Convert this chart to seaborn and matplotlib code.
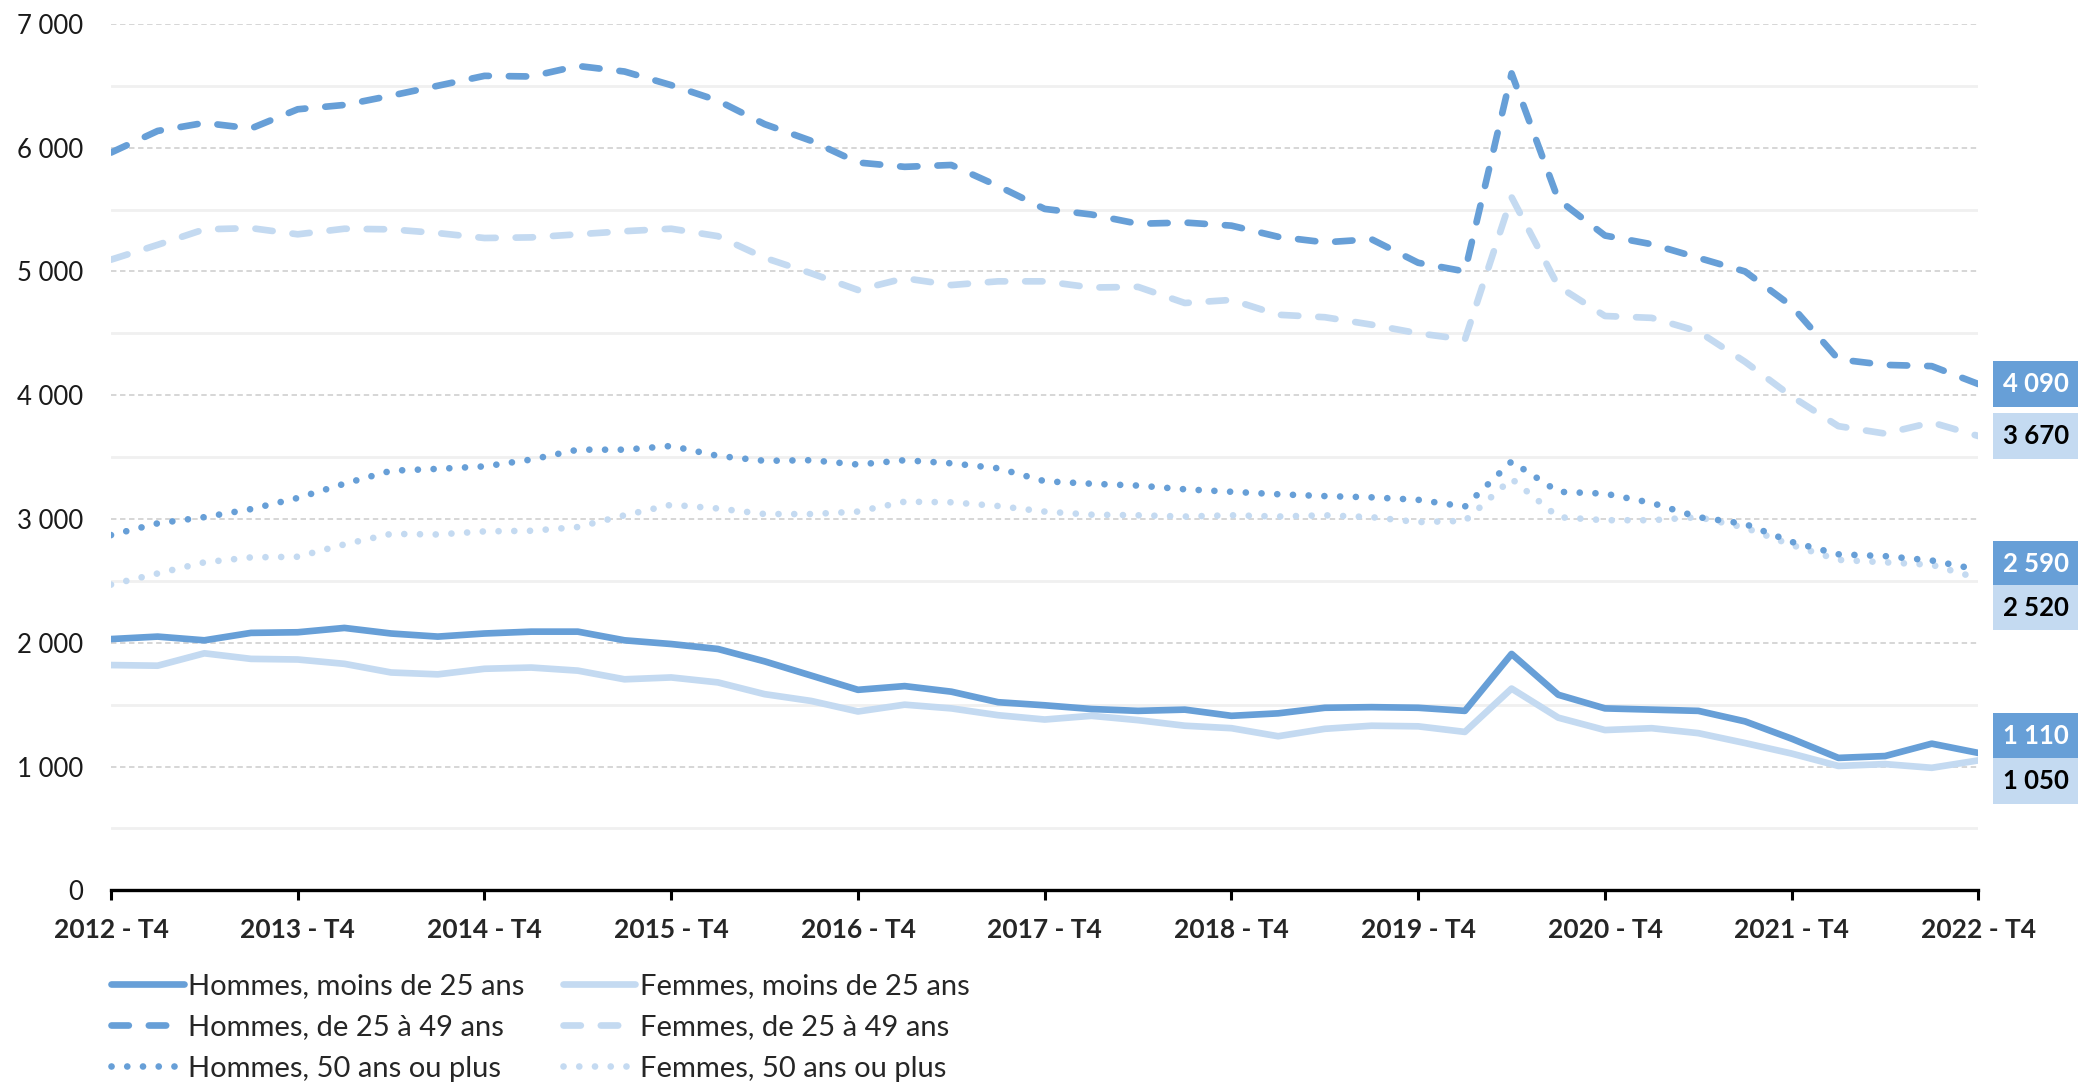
import numpy as np
import pandas as pd
import matplotlib
matplotlib.use("Agg")
import matplotlib.pyplot as plt
import seaborn as sns

# trimestres 2012-T4 .. 2022-T4 (41 points)
trimestres = list(range(41))
x_ticks = [0, 4, 8, 12, 16, 20, 24, 28, 32, 36, 40]
x_labels = ["2012 - T4", "2013 - T4", "2014 - T4", "2015 - T4", "2016 - T4", "2017 - T4",
            "2018 - T4", "2019 - T4", "2020 - T4", "2021 - T4", "2022 - T4"]
y_ticks = [0, 1000, 2000, 3000, 4000, 5000, 6000, 7000]
y_labels = ["0", "1 000", "2 000", "3 000", "4 000", "5 000", "6 000", "7 000"]

hommes_moins25 = [2030, 2050, 2020, 2080, 2085, 2120, 2075, 2050, 2075, 2090, 2090, 2020, 1990,
                  1950, 1850, 1735, 1620, 1650, 1605, 1520, 1495, 1465, 1450, 1460, 1410, 1430,
                  1475, 1480, 1475, 1450, 1910, 1580, 1470, 1460, 1450, 1365, 1225, 1070, 1085,
                  1185, 1110]
femmes_moins25 = [1820, 1815, 1915, 1870, 1865, 1830, 1760, 1745, 1790, 1800, 1775, 1705, 1720,
                  1680, 1585, 1530, 1445, 1500, 1470, 1415, 1380, 1410, 1375, 1330, 1310, 1245,
                  1305, 1330, 1325, 1280, 1630, 1395, 1295, 1310, 1270, 1190, 1105, 1005, 1020,
                  990, 1050]
hommes_25_49 = [5960, 6135, 6200, 6155, 6310, 6345, 6420, 6500, 6580, 6575, 6660, 6615, 6505,
                6380, 6190, 6055, 5880, 5845, 5860, 5690, 5505, 5460, 5385, 5395, 5370, 5280,
                5235, 5260, 5070, 5000, 6600, 5580, 5290, 5220, 5110, 5000, 4720, 4290, 4245,
                4235, 4090]
femmes_25_49 = [5095, 5215, 5340, 5350, 5300, 5345, 5340, 5310, 5270, 5275, 5300, 5325, 5345,
                5285, 5110, 4985, 4850, 4945, 4890, 4920, 4920, 4870, 4875, 4745, 4770, 4650,
                4630, 4570, 4500, 4450, 5600, 4880, 4640, 4625, 4515, 4270, 3990, 3750, 3690,
                3780, 3670]
hommes_50plus = [2870, 2965, 3015, 3080, 3170, 3285, 3390, 3405, 3425, 3480, 3560, 3560, 3590,
                 3510, 3470, 3475, 3440, 3475, 3450, 3410, 3305, 3285, 3270, 3240, 3220, 3200,
                 3185, 3175, 3155, 3100, 3465, 3220, 3205, 3130, 3015, 2960, 2815, 2715, 2700,
                 2665, 2590]
femmes_50plus = [2470, 2560, 2650, 2690, 2695, 2795, 2880, 2875, 2900, 2905, 2935, 3030, 3115,
                 3085, 3040, 3040, 3060, 3140, 3135, 3105, 3060, 3035, 3030, 3020, 3030, 3020,
                 3030, 3015, 2975, 2985, 3325, 3015, 2990, 2990, 3015, 2930, 2790, 2670, 2650,
                 2630, 2520]

noms = ["Hommes, moins de 25 ans", "Hommes, de 25 à 49 ans", "Hommes, 50 ans ou plus",
        "Femmes, moins de 25 ans", "Femmes, de 25 à 49 ans", "Femmes, 50 ans ou plus"]
series = [hommes_moins25, hommes_25_49, hommes_50plus,
          femmes_moins25, femmes_25_49, femmes_50plus]
derniers = ["1 110", "4 090", "2 590", "1 050", "3 670", "2 520"]

BLEU = "#679fd7"
BLEU_CLAIR = "#c4daf1"
couleurs = [BLEU, BLEU, BLEU, BLEU_CLAIR, BLEU_CLAIR, BLEU_CLAIR]
tirets = [None, (2.6, 3.0), (0.01, 2.35), None, (2.6, 3.0), (0.01, 2.35)]
# decalage vertical des etiquettes de fin (points)
decalage = [12, 0, 4, -15, 0, -21]

sns.set_theme(style="white")
plt.rcParams["font.family"] = ["Lato", "DejaVu Sans"]

fig = plt.figure(figsize=(20.78, 10.85), dpi=100)
ax = fig.add_axes([0.0534, 0.1794, 0.8987, 0.7986])

lw = 4.8
ordre = [3, 4, 5, 0, 1, 2]  # clair d'abord, foncé au-dessus
lignes = {}
for k in ordre:
    sns.lineplot(x=trimestres, y=series[k], ax=ax, color=couleurs[k], linewidth=lw,
                 label=noms[k])
    ln = ax.get_lines()[-1]
    ln.set_linewidth(lw)
    ln.set_solid_capstyle("round")
    ln.set_solid_joinstyle("round")
    if tirets[k] is not None:
        ln.set_dashes(tirets[k])
    ln.set_dash_capstyle("round")
    lignes[k] = ln

# etiquettes de fin
for k in range(6):
    clair = couleurs[k] == BLEU_CLAIR
    ax.annotate(derniers[k], xy=(trimestres[-1], series[k][-1]),
                xytext=(18, decalage[k]), textcoords="offset points",
                ha="left", va="center", fontsize=18.5, fontweight="bold",
                color="black" if clair else "white", annotation_clip=False,
                bbox=dict(boxstyle="square,pad=0.42", fc=couleurs[k], ec="none"))

ax.set_xlim(0, 40)
ax.set_ylim(0, 7000)
ax.set_xticks(x_ticks)
ax.set_xticklabels(x_labels, fontsize=19, fontweight="bold")
ax.set_yticks(y_ticks)
ax.set_yticklabels(y_labels, fontsize=18.5, color="#1a1a1a")
ax.set_yticks([500, 1500, 2500, 3500, 4500, 5500, 6500], minor=True)
ax.set_xlabel("")
ax.set_ylabel("")

ax.grid(axis="y", which="major", color="#d3d3d3", linestyle=(0, (3, 2)), lw=1.3)
ax.grid(axis="y", which="minor", color="#f0f0f0", linestyle="-", lw=2)
ax.grid(axis="x", visible=False)
ax.set_axisbelow(True)

for s in ["top", "right", "left"]:
    ax.spines[s].set_visible(False)
ax.spines["bottom"].set_color("black")
ax.spines["bottom"].set_linewidth(2.4)
ax.tick_params(axis="x", which="major", direction="out", length=7, width=2.2,
               color="black", pad=13, bottom=True)
ax.tick_params(axis="y", which="both", length=0, pad=20)

handles = [lignes[k] for k in range(6)]
ax.get_legend().remove()
fig.legend(handles, noms, loc="upper left", bbox_to_anchor=(0.0534, 0.103), ncol=2,
           frameon=False, fontsize=21, handlelength=2.5, handletextpad=0.15,
           columnspacing=1.3, labelspacing=0.52, borderpad=0, borderaxespad=0)

fig.savefig("out.png", dpi=100)
